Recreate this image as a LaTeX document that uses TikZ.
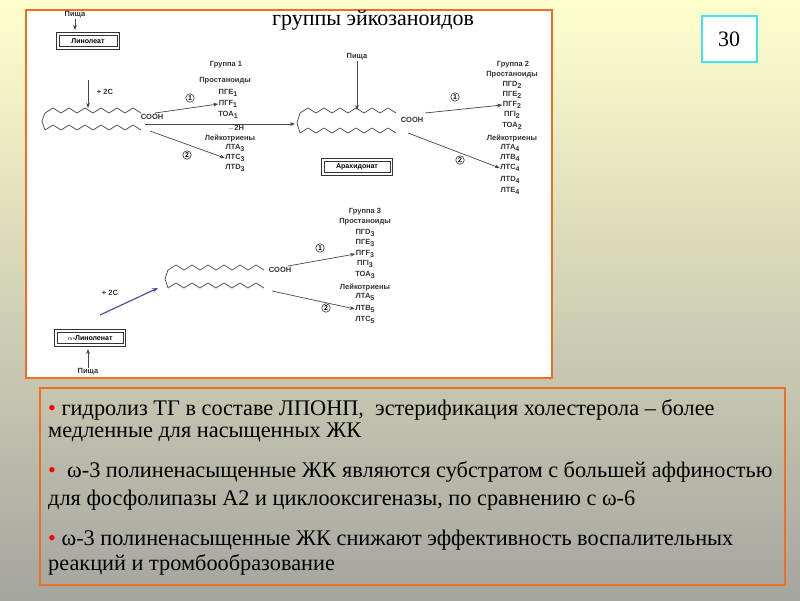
\documentclass[tikz,border=0pt]{standalone}
\usepackage{fontspec}
\setmainfont{Liberation Serif}
\newfontfamily\dsans{Liberation Sans}
\usetikzlibrary{arrows.meta}
\definecolor{bgtop}{RGB}{255,255,205}
\definecolor{bgbot}{RGB}{165,165,160}
\definecolor{fr}{RGB}{240,110,30}
\definecolor{cy}{RGB}{60,230,240}
\definecolor{ln}{RGB}{70,70,70}
\definecolor{bl}{RGB}{80,80,170}
\newcommand\zzag[4]{\draw[ln,line width=0.7pt] (#1,#2) \foreach \i in {1,...,#3}{ -- ++(#4,-5) -- ++(#4,5)};}
\newcommand\sbx[1]{\raisebox{-2.5pt}{\fontsize{7}{7}\selectfont #1}}
\newcommand\dbox[1]{\draw[black!80,line width=0.7pt] ([shift={(-2.5,2.5)}]#1.south west) rectangle ([shift={(2.5,-2.5)}]#1.north east);}
\begin{document}
\begin{tikzpicture}[x=1pt,y=-1pt,
  t/.style={font=\dsans\bfseries\fontsize{7.5}{8}\selectfont,inner sep=0.5pt,text=black!80},
  ar/.style={draw=ln,line width=0.7pt,-{Stealth[length=5pt]}},
  num/.style={circle,draw=black!80,line width=0.6pt,inner sep=0.8pt,font=\dsans\bfseries\fontsize{7}{7}\selectfont},
  bx/.style={draw=black!80,line width=0.6pt,font=\dsans\bfseries\fontsize{7}{8}\selectfont,minimum height=11pt,inner sep=2pt},
  bt/.style={anchor=west,font=\fontsize{22.3}{24}\selectfont,inner sep=0pt}]
\shade[top color=bgtop,bottom color=bgbot] (0,0) rectangle (800,600);
\useasboundingbox (0,0) rectangle (800,600);
\draw[fr,fill=white,line width=2pt] (26,10) rectangle (552,378);
\node[font=\fontsize{22}{24}\selectfont] (title) at (373,20) {группы эйкозаноидов};
\node[draw=cy,fill=white,line width=2pt,minimum width=55pt,minimum height=46pt,font=\fontsize{22}{24}\selectfont] (num) at (729,39) {30};
% group 1
\node[t] (p1) at (75,15) {Пища};
\node[bx,minimum width=58pt] (lin) at (88,41) {Линолеат}; \dbox{lin}
\draw[ar] (p1) -- (75,30);
\coordinate (c2a) at (88,80); \coordinate (c2b) at (88,108);
\draw[ar] (c2a) -- (c2b);
\node[t] (pc1) at (105,92) {+ 2C};
\zzag{45}{113}{6}{8} \zzag{45}{130}{6}{8}
\draw[ln,line width=0.7pt] (45,113) -- (42,121) -- (45,130);
\node[t] (cooh1) at (152,117) {COOH};
\node[t] (g1) at (226,65) {Группа 1};
\node[t] (pr1) at (225,81) {Простаноиды};
\node[t] (a1) at (228,93) {ПГЕ\sbx{1}};
\node[t] (a2) at (228,104) {ПГF\sbx{1}};
\node[t] (a3) at (228,115) {ТОА\sbx{1}};
\node[t] (h2) at (236,128) {$-$2Н};
\node[t] (lk1) at (230,138) {Лейкотриены};
\node[t] (b1) at (235,148) {ЛТА\sbx{3}};
\node[t] (b2) at (235,158) {ЛТС\sbx{3}};
\node[t] (b3) at (235,168) {ЛТD\sbx{3}};
\coordinate (s1) at (155,113); \coordinate (s2) at (150,131); \coordinate (s3) at (145,124);
\draw[ar] (s1) -- (a2.west);
\draw[ar] (s2) -- (b2.west);
\node[num] (n11) at (190,98) {1};
\node[num] (n12) at (187,155) {2};
% group 2
\node[t] (p2) at (357,57) {Пища};
\coordinate (p2e) at (357,110);
\draw[ar] (p2) -- (p2e);
\zzag{300}{113}{6}{8} \zzag{300}{133}{6}{8}
\draw[ln,line width=0.7pt] (300,113) -- (297,123) -- (300,133);
\node[t] (cooh2) at (412,120) {COOH};
\coordinate (s3e) at (295,124);
\draw[ar] (s3) -- (s3e);
\node[bx,minimum width=66pt] (ara) at (357,167) {Арахидонат}; \dbox{ara}
\node[t] (g2) at (513,65) {Группа 2};
\node[t] (pr2) at (512,75) {Простаноиды};
\node[t] (c1) at (512,85) {ПГD\sbx{2}};
\node[t] (c2) at (512,95) {ПГЕ\sbx{2}};
\node[t] (c3) at (512,105) {ПГF\sbx{2}};
\node[t] (c4) at (512,115) {ПГI\sbx{2}};
\node[t] (c5) at (512,126) {ТОА\sbx{2}};
\node[t] (lk2) at (512,138) {Лейкотриены};
\node[t] (d1) at (510,148) {ЛТА\sbx{4}};
\node[t] (d2) at (510,158) {ЛТВ\sbx{4}};
\node[t] (d3) at (510,168) {ЛТС\sbx{4}};
\node[t] (d4) at (510,180) {ЛТD\sbx{4}};
\node[t] (d5) at (510,191) {ЛТЕ\sbx{4}};
\coordinate (u1) at (425,113); \coordinate (u2) at (408,133);
\draw[ar] (u1) -- (c3.west);
\draw[ar] (u2) -- (d3.west);
\node[num] (n21) at (455,97) {1};
\node[num] (n22) at (460,160) {2};
% group 3
\zzag{168}{270}{6}{8} \zzag{168}{288}{6}{8}
\draw[ln,line width=0.7pt] (168,270) -- (165,279) -- (168,288);
\node[t] (cooh3) at (280,270) {COOH};
\node[t] (g3) at (365,212) {Группа 3};
\node[t] (pr3) at (365,222) {Простаноиды};
\node[t] (e1) at (365,233) {ПГD\sbx{3}};
\node[t] (e2) at (365,243) {ПГЕ\sbx{3}};
\node[t] (e3) at (365,254) {ПГF\sbx{3}};
\node[t] (e4) at (365,264) {ПГI\sbx{3}};
\node[t] (e5) at (365,275) {ТОА\sbx{3}};
\node[t] (lk3) at (365,287) {Лейкотриены};
\node[t] (f1) at (365,297) {ЛТА\sbx{5}};
\node[t] (f2) at (365,309) {ЛТВ\sbx{5}};
\node[t] (f3) at (365,320) {ЛТС\sbx{5}};
\coordinate (v1) at (288,266); \coordinate (v2) at (272,291);
\draw[ar] (v1) -- (e3.west);
\draw[ar] (v2) -- (f2.west);
\node[num] (n31) at (320,248) {1};
\node[num] (n32) at (326,308) {2};
\node[bx,minimum width=66pt] (alin) at (90,338) {$\alpha$-Линоленат}; \dbox{alin}
\coordinate (bs) at (100,315); \coordinate (be) at (158,288);
\draw[draw=bl,line width=1.2pt,-{Stealth[length=6pt]}] (bs) -- (be);
\node[t] (pc3) at (110,293) {+ 2C};
\node[t] (p3) at (88,372) {Пища};
\draw[ar] (p3) -- (88,349);
% text box
\draw[fr,line width=1.5pt] (40,388) rectangle (785,585);
\node[bt] (l1) at (48,410) {\textcolor{red}{•} гидролиз ТГ в составе ЛПОНП,\ \ эстерификация холестерола – более};
\node[bt] (l2) at (48,433) {медленные для насыщенных ЖК};
\node[bt] (l3) at (48,472) {\textcolor{red}{•}\ \ ω-3 полиненасыщенные ЖК являются субстратом с большей аффиностью};
\node[bt] (l4) at (48,500) {для фосфолипазы А2 и циклооксигеназы, по сравнению с ω-6};
\node[bt] (l5) at (48,540) {\textcolor{red}{•} ω-3 полиненасыщенные ЖК снижают эффективность воспалительных};
\node[bt] (l6) at (48,565) {реакций и тромбообразование};
\end{tikzpicture}
\end{document}
